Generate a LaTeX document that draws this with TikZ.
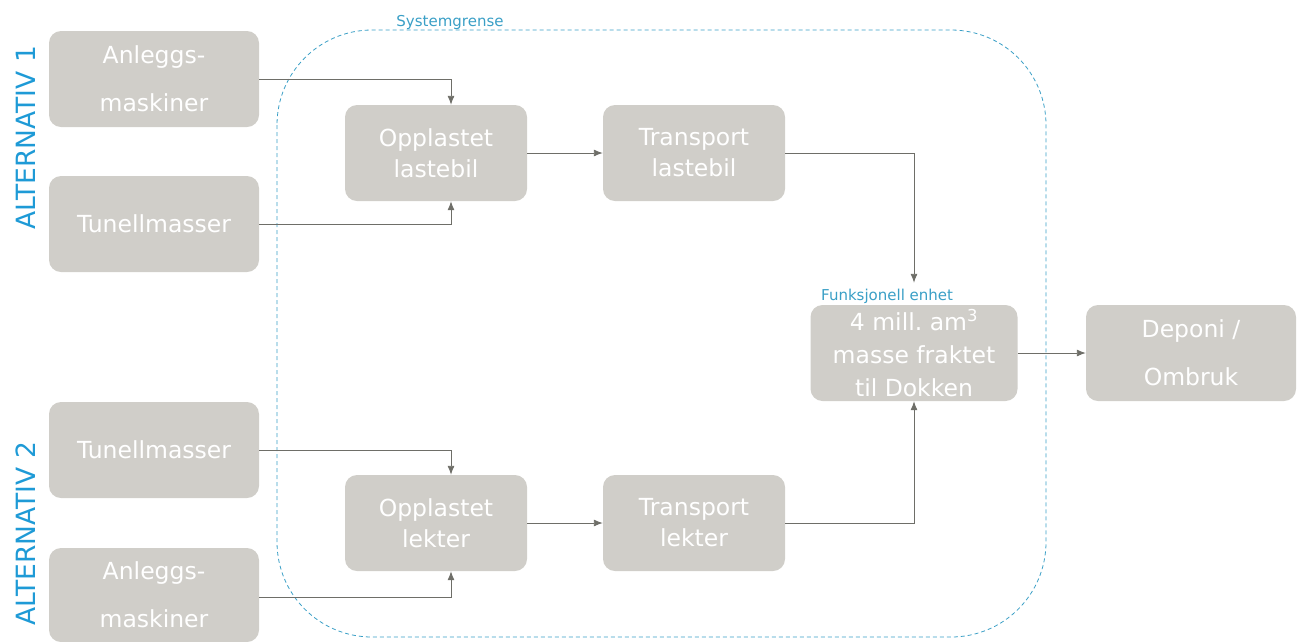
\documentclass[tikz,border=0pt]{standalone}
\usepackage{fontspec}
\setmainfont{DejaVu Sans}
\usetikzlibrary{arrows.meta}
\definecolor{boxgray}{HTML}{D0CEC9}
\definecolor{arrgray}{HTML}{6E6E68}
\definecolor{altblue}{HTML}{1E9AD6}
\definecolor{sysblue}{HTML}{3A9FC6}
\begin{document}
\begin{tikzpicture}[x=1pt,y=-1pt,
  box/.style={fill=boxgray, rounded corners=12pt, text=white, align=center,
    font=\fontsize{23.5}{31}\selectfont, inner sep=0pt},
  wide/.style={font=\fontsize{23.5}{48}\selectfont},
  tight/.style={font=\fontsize{23.5}{33}\selectfont},
  wbox/.style={box, minimum width=210pt, minimum height=96pt},
  mbox/.style={box, minimum width=182pt, minimum height=96pt},
  arr/.style={draw=arrgray, line width=0.9pt, -{Latex[length=9pt,width=7pt]}},
  alt/.style={text=altblue, rotate=90, font=\fontsize{26.5}{30}\selectfont},
  small/.style={text=sysblue, font=\fontsize{15}{17}\selectfont, inner sep=0pt}
]
\useasboundingbox (0,0) rectangle (1311,641);
\draw[sysblue, line width=0.8pt, dash pattern=on 4pt off 3pt, rounded corners=95pt] (277,30) rectangle (1046,637);
\node[small, anchor=base] (sys) at (450,26) {Systemgrense};

\node[alt] (alt1) at (26,138) {ALTERNATIV 1};
\node[alt] (alt2) at (26,534) {ALTERNATIV 2};

\node[wbox, wide] (a1) at (154,79) {Anleggs-\\maskiner};
\node[wbox] (t1) at (154,224) {Tunellmasser};
\node[mbox] (ol) at (436,153) {Opplastet\\lastebil};
\node[mbox] (tl) at (694,153) {Transport\\lastebil};
\node[wbox, tight, minimum width=207pt] (fe) at (914,353) {4 mill.\ am\textsuperscript{3}\\masse fraktet\\til Dokken};
\node[wbox, wide] (dp) at (1191,353) {Deponi /\\Ombruk};
\node[wbox] (t2) at (154,450) {Tunellmasser};
\node[wbox, wide, minimum height=94pt] (a2) at (154,595) {Anleggs-\\maskiner};
\node[mbox] (olk) at (436,523) {Opplastet\\lekter};
\node[mbox] (tlk) at (694,523) {Transport\\lekter};
\node[small, anchor=base west] (fel) at (821,300) {Funksjonell enhet};
\coordinate (feTop) at ([yshift=22pt]fe.north);

\draw[arr] (a1.east) -| ([xshift=15pt]ol.north);
\draw[arr] (t1.east) -| ([xshift=15pt]ol.south);
\draw[arr] (ol.east) -- (tl.west);
\draw[arr] (tl.east) -| (feTop);
\draw[arr] (t2.east) -| ([xshift=15pt]olk.north);
\draw[arr] ([yshift=-2pt]a2.east) -| ([xshift=15pt]olk.south);
\draw[arr] (olk.east) -- (tlk.west);
\draw[arr] (tlk.east) -| (fe.south);
\draw[arr] (fe.east) -- (dp.west);
\end{tikzpicture}
\end{document}
